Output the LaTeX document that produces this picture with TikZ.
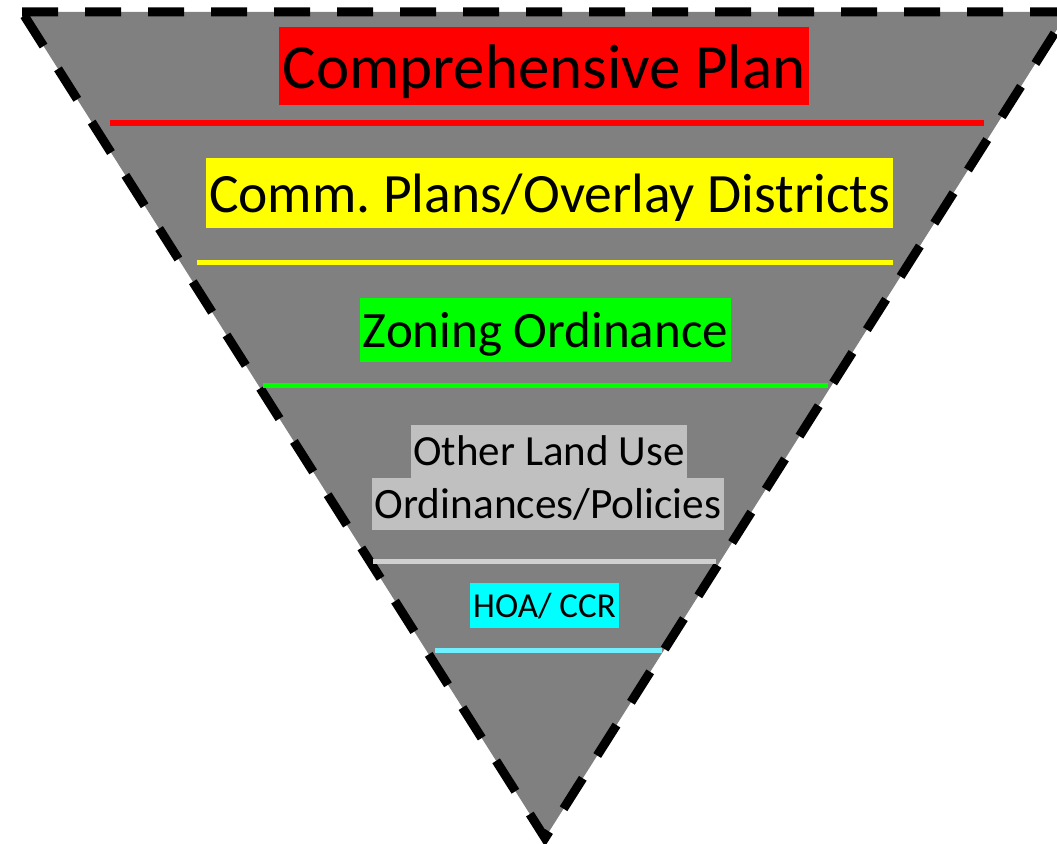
\documentclass[tikz,border=0pt]{standalone}
\usepackage{fontspec}
\setmainfont{Carlito}
\begin{document}
\frenchspacing
\begin{tikzpicture}[x=1pt,y=-1pt,
  hl/.style={inner xsep=3pt, inner ysep=0pt, anchor=north},
  band/.style={line width=5pt},
  tri/.style={fill={rgb,255:red,128;green,128;blue,128}, draw=black, line width=9pt,
     dash pattern=on 36pt off 27pt, line join=miter}]
\clip (0,0) rectangle (1057,843);
\definecolor{redhl}{RGB}{255,0,0}
\definecolor{yellowhl}{RGB}{255,255,0}
\definecolor{greenhl}{RGB}{0,255,0}
\definecolor{grayhl}{RGB}{192,192,192}
\definecolor{cyanhl}{RGB}{0,255,255}
\definecolor{grayline}{RGB}{208,208,208}
\definecolor{cyanline}{RGB}{112,240,255}
\coordinate (A) at (22,12);
\coordinate (B) at (1068,12);
\coordinate (C) at (545,838);
\draw[tri] (A) -- (B) -- (C) -- cycle;
% bands
\draw[band, redhl, line width=6pt] (110,123) -- (984,123);
\draw[band, yellowhl] (197,262) -- (893,262);
\draw[band, greenhl] (263,385) -- (828,385);
\draw[band, grayline] (373,561) -- (716,561);
\draw[band, cyanline] (435,650) -- (662,650);
% labels
\node[hl, fill=redhl, text height=61pt, text depth=17pt, font=\fontsize{63}{76}\selectfont] (cp) at (544,27) {Comprehensive Plan};
\node[hl, fill=yellowhl, text height=54pt, text depth=16pt, font=\fontsize{55.5}{67}\selectfont] (co) at (549.5,158) {Comm. Plans/Overlay Districts};
\node[hl, fill=greenhl, text height=49pt, text depth=15pt, font=\fontsize{51}{61}\selectfont] (zo) at (545.5,298) {Zoning Ordinance};
\node[hl, fill=grayhl, text height=40pt, text depth=13pt, font=\fontsize{43}{52}\selectfont] (ol1) at (549,425) {Other Land Use};
\node[hl, fill=grayhl, text height=40pt, text depth=12pt, font=\fontsize{43.3}{52}\selectfont] (ol2) at (548,478) {Ordinances/Policies};
\node[hl, fill=cyanhl, text height=34pt, text depth=11pt, font=\fontsize{35}{42}\selectfont] (hoa) at (544.5,583) {HOA/ CCR};
\end{tikzpicture}
\end{document}
